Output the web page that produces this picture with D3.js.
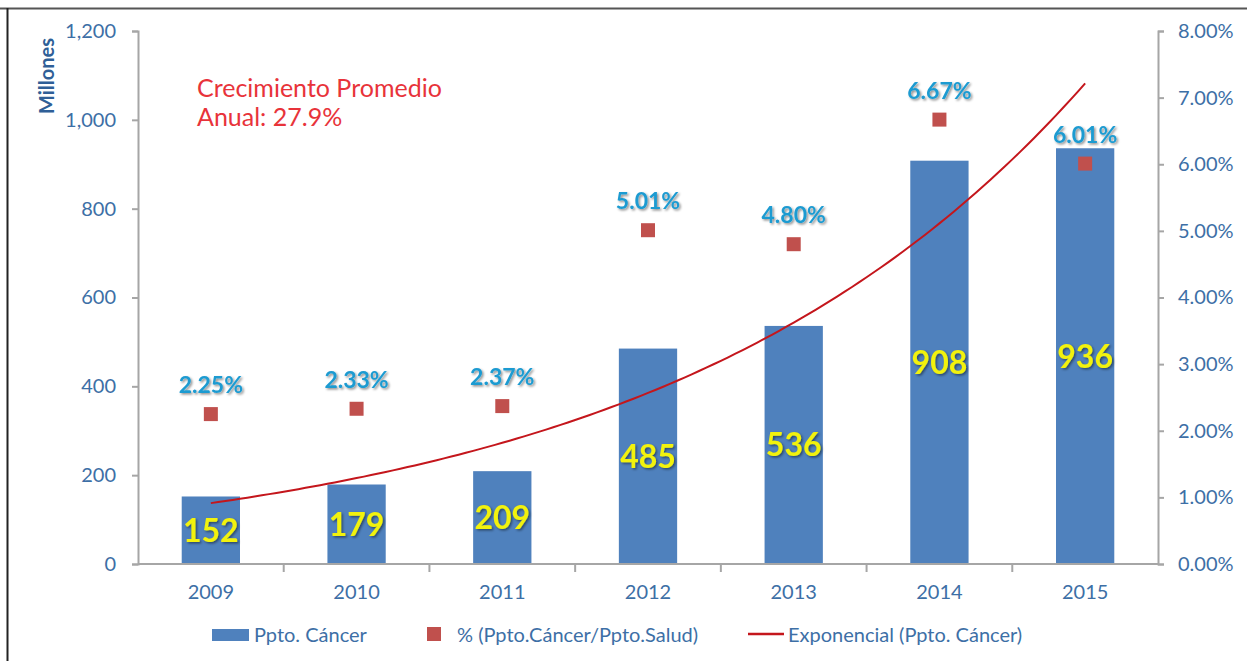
<!DOCTYPE html>
<html><head><meta charset="utf-8">
<script src="https://cdn.jsdelivr.net/npm/d3@7"></script>
<style>
body{margin:0;background:#fff;}
svg{display:block;font-family:Lato,"Open Sans",sans-serif;}
</style></head>
<body><svg id="c" width="1247" height="661"></svg>
<script>
const years = ["2009","2010","2011","2012","2013","2014","2015"];
const budget = [152,179,209,485,536,908,936];
const pct = [2.25,2.33,2.37,5.01,4.80,6.67,6.01];
const leftTicks = [0,200,400,600,800,1000,1200];
const rightTicks = [0,1,2,3,4,5,6,7,8];
const legendLabels = ["Ppto. Cáncer","% (Ppto.Cáncer/Ppto.Salud)","Exponencial (Ppto. Cáncer)"];
const noteLines = ["Crecimiento Promedio","Anual: 27.9%"];

const svg = d3.select("#c");
const L=138,R=1158,T=31,B=564;
const axisCol="#a6a6a6", tickCol="#3d6fa6";

const defs = svg.append("defs");
const f = defs.append("filter").attr("id","sh").attr("x","-20%").attr("y","-20%").attr("width","140%").attr("height","140%");
f.append("feDropShadow").attr("dx",1.5).attr("dy",1.5).attr("stdDeviation",1).attr("flood-color","#000").attr("flood-opacity",0.45);

// frame
svg.append("line").attr("x1",0).attr("x2",1247).attr("y1",8.5).attr("y2",8.5).attr("stroke","#555").attr("stroke-width",2);
svg.append("line").attr("x1",7.5).attr("x2",7.5).attr("y1",8).attr("y2",661).attr("stroke","#222").attr("stroke-width",2);

const x = d3.scaleBand().domain(years).range([L,R]).paddingInner(0.6).paddingOuter(0.3);
const xb = d3.scaleBand().domain(years).range([L,R]);
const y = d3.scaleLinear().domain([0,1200]).range([B,T]);
const y2 = d3.scaleLinear().domain([0,8]).range([B,T]);

// bars
svg.append("g").selectAll("rect").data(budget).join("rect")
 .attr("x",(d,i)=>x(years[i])).attr("width",x.bandwidth())
 .attr("y",d=>y(d)).attr("height",d=>B-y(d)).attr("fill","#4f81bd");

// axes
const ga = svg.append("g").attr("transform",`translate(${L},0)`)
 .call(d3.axisLeft(y).tickValues(leftTicks).tickSize(6).tickPadding(16).tickFormat(d3.format(",")));
const gr = svg.append("g").attr("transform",`translate(${R},0)`)
 .call(d3.axisRight(y2).tickValues(rightTicks).tickSize(6).tickPadding(14).tickFormat(d=>d.toFixed(2)+"%"));
const gx = svg.append("g").attr("transform",`translate(0,${B})`)
 .call(d3.axisBottom(xb).tickSize(0).tickPadding(21));
[ga,gr,gx].forEach(g=>{
  g.select(".domain").attr("stroke",axisCol).attr("stroke-width",2);
  g.selectAll(".tick line").attr("stroke",axisCol).attr("stroke-width",2);
  g.selectAll("text").attr("fill",tickCol).attr("font-size",20).attr("font-family","Lato,sans-serif");
});
gx.select(".domain").attr("d",`M${L},0H${R}`);
// x boundary ticks
gx.append("g").selectAll("line").data(years.slice(1)).join("line")
 .attr("x1",d=>xb(d)).attr("x2",d=>xb(d)).attr("y1",0).attr("y2",8)
 .attr("stroke",axisCol).attr("stroke-width",2);

// Millones
svg.append("text").attr("transform","translate(54,76) rotate(-90)").attr("text-anchor","middle")
 .attr("fill","#2f5f97").attr("font-weight","bold").attr("font-size",20).text("Millones");

// trendline: exponential least-squares fit on bar values
const idx = budget.map((d,i)=>i);
const mx = d3.mean(idx), ml = d3.mean(budget,d=>Math.log(d));
const slope = d3.sum(idx,i=>(i-mx)*(Math.log(budget[i])-ml))/d3.sum(idx,i=>(i-mx)*(i-mx));
const icpt = ml - slope*mx;
const cx = i=>xb(years[0])+xb.bandwidth()/2 + i*xb.step();
const tp = d3.range(0,6.0001,0.05).map(t=>[cx(t), y(Math.exp(icpt+slope*t))]);
svg.append("path").attr("d",d3.line()(tp)).attr("fill","none").attr("stroke","#c4161c").attr("stroke-width",2);

// markers
svg.append("g").selectAll("rect").data(pct).join("rect")
 .attr("x",(d,i)=>cx(i)-7).attr("y",d=>y2(d)-7).attr("width",14).attr("height",14).attr("fill","#c0504d");

// pct labels
svg.append("g").selectAll("text").data(pct).join("text")
 .attr("x",(d,i)=>cx(i)).attr("y",d=>y2(d)-21).attr("text-anchor","middle")
 .attr("fill","#1f9bd1").attr("font-weight","bold").attr("font-size",23).attr("filter","url(#sh)")
 .text(d=>d.toFixed(2)+"%");

// value labels
svg.append("g").selectAll("text").data(budget).join("text")
 .attr("x",(d,i)=>cx(i)).attr("y",d=>(y(d)+B)/2).attr("dy","0.36em").attr("text-anchor","middle")
 .attr("fill","#f2f20a").attr("font-weight","bold").attr("font-size",32).attr("filter","url(#sh)")
 .text(d=>d);

// note
svg.append("g").selectAll("text").data(noteLines).join("text")
 .attr("x",197).attr("y",(d,i)=>97+i*29).attr("fill","#e8333a").attr("font-size",25).text(d=>d);

// legend
const lg = svg.append("g").attr("font-size",20).attr("fill",tickCol);
lg.append("rect").attr("x",212).attr("y",629).attr("width",37).attr("height",12).attr("fill","#4f81bd");
lg.append("text").attr("x",254).attr("y",642).text(legendLabels[0]);
lg.append("rect").attr("x",427).attr("y",627).attr("width",14).attr("height",14).attr("fill","#c0504d");
lg.append("text").attr("x",457).attr("y",642).text(legendLabels[1]);
lg.append("line").attr("x1",748).attr("x2",784).attr("y1",634).attr("y2",634).attr("stroke","#c4161c").attr("stroke-width",2.5);
lg.append("text").attr("x",788).attr("y",642).text(legendLabels[2]);
</script></body></html>
